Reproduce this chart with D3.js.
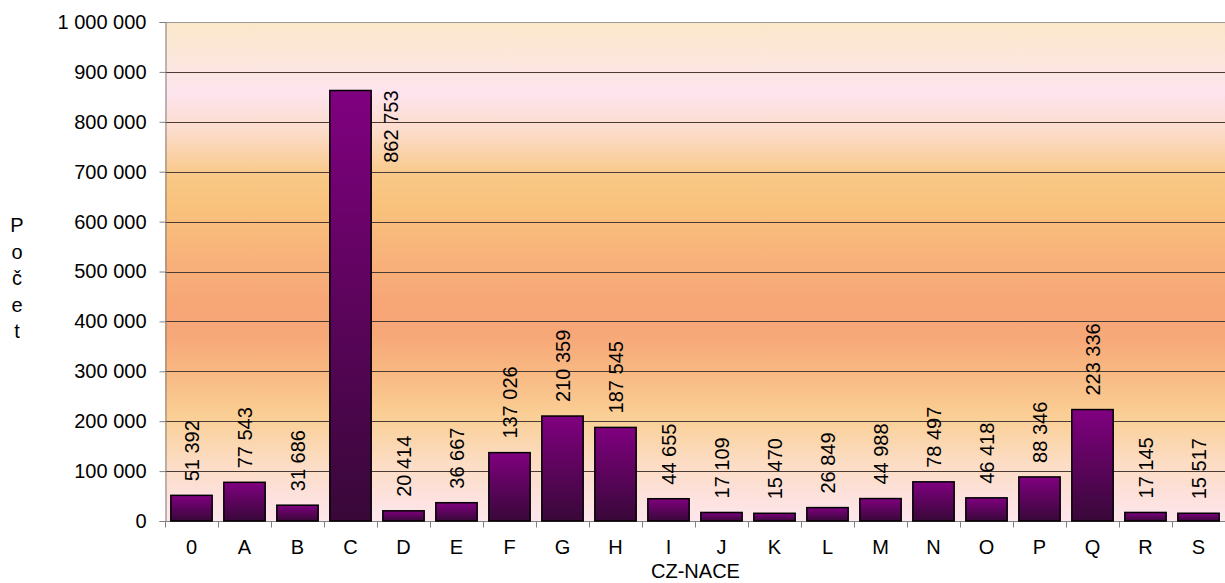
<!DOCTYPE html>
<html>
<head>
<meta charset="utf-8">
<script src="https://cdn.jsdelivr.net/npm/d3@7"></script>
<style>
  html, body { margin: 0; padding: 0; background: #fff; }
  svg { display: block; font-family: "Liberation Sans", Arial, sans-serif; }
</style>
</head>
<body>
<svg id="chart" width="1225" height="583"></svg>
<script>
// CZ-NACE sections and their counts
const categories = ["0", "A", "B", "C", "D", "E", "F", "G", "H", "I", "J", "K", "L", "M", "N", "O", "P", "Q", "R", "S"];
const counts = [51392, 77543, 31686, 862753, 20414, 36667, 137026, 210359, 187545, 44655, 17109, 15470, 26849, 44988, 78497, 46418, 88346, 223336, 17145, 15517];
const yTicks = [0, 100000, 200000, 300000, 400000, 500000, 600000, 700000, 800000, 900000, 1000000];
const xTitle = "CZ-NACE";
const yTitle = "Počet";

const data = categories.map((c, i) => ({ cat: c, value: counts[i] }));

const plot = { left: 165, right: 1225, top: 22, bottom: 521 };

const svg = d3.select("#chart");
const fmt = d3.formatLocale({ decimal: ",", thousands: " ", grouping: [3], currency: ["", ""] }).format(",d");

const x = d3.scaleBand().domain(categories).range([plot.left, plot.right]).paddingInner(0.22).paddingOuter(0.11);
const y = d3.scaleLinear().domain([0, 1000000]).range([plot.bottom, plot.top]);

const defs = svg.append("defs");

// banded warm background of the plot area
const bg = defs.append("linearGradient").attr("id", "bg")
  .attr("gradientUnits", "userSpaceOnUse")
  .attr("x1", 0).attr("x2", 0).attr("y1", plot.top).attr("y2", plot.bottom);
[
  [0.00, "#fbe8ca"],
  [0.09, "#fce6e0"],
  [0.14, "#fde4ee"],
  [0.22, "#fcdcca"],
  [0.31, "#f9c886"],
  [0.37, "#f9c27c"],
  [0.46, "#f8b47b"],
  [0.56, "#f7a676"],
  [0.63, "#f7a878"],
  [0.70, "#f8b882"],
  [0.79, "#facf95"],
  [0.88, "#fcdcc2"],
  [0.95, "#fde1dc"],
  [1.00, "#fde6ec"]
].forEach(([o, c]) => bg.append("stop").attr("offset", o).attr("stop-color", c));

// bar fill: purple fading to dark plum
const barGrad = defs.append("linearGradient").attr("id", "barGrad")
  .attr("x1", 0).attr("x2", 0).attr("y1", 0).attr("y2", 1);
barGrad.append("stop").attr("offset", 0).attr("stop-color", "#800080");
barGrad.append("stop").attr("offset", 1).attr("stop-color", "#380838");

svg.append("rect")
  .attr("x", plot.left).attr("y", plot.top)
  .attr("width", plot.right - plot.left).attr("height", plot.bottom - plot.top)
  .attr("fill", "url(#bg)");

// horizontal gridlines
svg.append("g").selectAll("line").data(yTicks.filter(t => t > 0)).join("line")
  .attr("x1", plot.left).attr("x2", plot.right)
  .attr("y1", d => Math.round(y(d)) + 0.5).attr("y2", d => Math.round(y(d)) + 0.5)
  .attr("stroke", d => d === 1000000 ? "#9a9a9a" : "#4a3a34")
  .attr("stroke-width", 1);

// y axis
const yAxis = svg.append("g").attr("transform", `translate(${plot.left + 0.5},0)`)
  .call(d3.axisLeft(y).tickValues(yTicks).tickFormat(fmt).tickSize(6).tickPadding(13));
yAxis.select(".domain").attr("stroke", "#808080");
yAxis.selectAll(".tick line").attr("stroke", "#808080");
yAxis.selectAll(".tick text").attr("font-size", 20).attr("fill", "#000")
  .attr("font-family", "Liberation Sans, Arial, sans-serif");

// x axis with ticks between categories
const xAxisG = svg.append("g").attr("transform", `translate(0,${plot.bottom + 0.5})`);
xAxisG.append("line").attr("x1", plot.left).attr("x2", plot.right)
  .attr("stroke", "#808080");
const step = x.step();
const bounds = d3.range(categories.length + 1).map(i => plot.left + i * step);
xAxisG.selectAll("line.tk").data(bounds).join("line").attr("class", "tk")
  .attr("x1", d => Math.round(d) + 0.5).attr("x2", d => Math.round(d) + 0.5)
  .attr("y1", 0).attr("y2", 6).attr("stroke", "#808080");
xAxisG.selectAll("text").data(categories).join("text")
  .attr("x", d => x(d) + x.bandwidth() / 2)
  .attr("y", 32)
  .attr("text-anchor", "middle")
  .attr("font-size", 20)
  .text(d => d);

// bars
svg.append("g").selectAll("rect").data(data).join("rect")
  .attr("x", d => x(d.cat))
  .attr("y", d => y(d.value))
  .attr("width", x.bandwidth())
  .attr("height", d => y(0) - y(d.value))
  .attr("fill", "url(#barGrad)")
  .attr("stroke", "#000")
  .attr("stroke-width", 1.5);

// value labels, rotated; a label that would run past the top sits beside its bar
const labels = svg.append("g").attr("font-size", 20).attr("fill", "#000");
const gap = 14;
data.forEach(d => {
  const txt = labels.append("text").text(fmt(d.value));
  const len = txt.node().getComputedTextLength();
  const top = y(d.value);
  let cx, yy, anchor;
  if (top - gap - len < plot.top) {
    cx = x(d.cat) + x.bandwidth() + 20;
    yy = top;
    anchor = "end";
  } else {
    cx = x(d.cat) + x.bandwidth() / 2;
    yy = top - gap;
    anchor = "start";
  }
  txt.attr("text-anchor", anchor)
    .attr("dy", "0.35em")
    .attr("transform", `translate(${cx},${yy}) rotate(-90)`);
});

// axis titles
svg.append("text")
  .attr("x", (plot.left + plot.right) / 2 + 0.5)
  .attr("y", 578)
  .attr("text-anchor", "middle")
  .attr("font-size", 20)
  .text(xTitle);

const yt = svg.append("text")
  .attr("text-anchor", "middle")
  .attr("font-size", 20);
Array.from(yTitle).forEach((ch, i) => {
  yt.append("tspan").attr("x", 17).attr("y", 232 + i * 26.5).text(ch);
});
</script>
</body>
</html>
